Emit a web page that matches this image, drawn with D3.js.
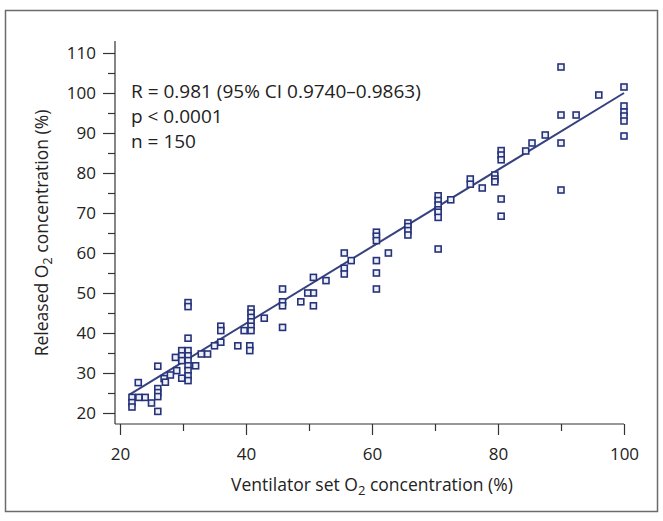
<!DOCTYPE html>
<html><head><meta charset="utf-8">
<script src="https://cdn.jsdelivr.net/npm/d3@7"></script>
<style>
body{margin:0;background:#fff}
svg{display:block}
text{font-family:"Open Sans",sans-serif;fill:#222}
</style>
</head><body>
<svg id="chart" width="663" height="521"></svg>
<script>
// Ventilator set O2 concentration (%) and released O2 concentration (%)
const setO2 = [
  100,100,100,100,100,100, 96, 92.4, 90,90,90,90, 87.5, 85.4, 84.4,
  80.5,80.5,80.5,80.5,80.5, 79.5,79.5,79.5, 77.5, 75.6,75.6, 72.5,
  70.5,70.5,70.5,70.5,70.5,70.5,70.5, 65.7,65.7,65.7,65.7, 62.6,
  60.7,60.7,60.7,60.7,60.7,60.7, 56.7, 55.6,55.6,55.6, 52.7,
  50.7,50.7,50.7, 49.8, 48.7, 45.8,45.8,45.8,45.8, 42.9,
  40.8,40.8,40.8,40.8,40.8,40.8, 40.6,40.6, 39.7, 38.7,
  36,36,36, 35, 33.9, 32.9,
  30.8,30.8,30.8, 30.8,30.8,30.8,30.8,30.8,30.8,30.8,
  29.8,29.8,29.8,29.8, 32,
  29, 28.8, 28, 27, 27.2,
  26,26,26,26,26, 25, 24, 23, 22.9, 21.9,21.9,21.9
];
const releasedO2 = [
  101.5,96.75,95.25,94.25,93,89.25, 99.5, 94.5, 106.5,94.5,87.5,75.75, 89.5, 87.5, 85.5,
  85.6,84.5,83.3,73.5,69.2, 79.5,78.5,77.8, 76.25, 78.5,77.2, 73.3,
  74.3,73.1,72,70.8,70.2,68.9,61, 67.5,66.6,65.6,64.5, 60,
  65.2,64.2,63.1,58.1,55,51, 58.1, 60,56.2,54.75, 53.1,
  53.9,50,46.8, 50, 47.8, 51,47.8,46.8,41.4, 43.7,
  46,45,43.9,42.8,41.7,40.6, 36.8,35.6, 40.6, 36.8,
  41.7,40.6,37.7, 36.8, 34.75, 34.75,
  47.6,46.6,38.7, 35.6,34.3,33.1,31.8,30.6,29.3,28.1,
  35.6,34.3,33.1,28.7, 31.8,
  30.6, 33.9, 29.5, 28.6, 27.7,
  31.7,26.1,25.1,24.1,20.4, 22.5, 23.9, 23.9, 27.6, 23.9,22.6,21.5
];
// Regression line end points
const fitX = [21.5, 100];
const fitY = [24.6, 100];

const xTicks = [20, 40, 60, 80, 100];
const xMinorTicks = [30, 50, 70, 90];
const yTicks = [20, 30, 40, 50, 60, 70, 80, 90, 100, 110];
const yMinorTicks = [25, 35, 45, 55, 65, 75, 85, 95, 105];
const statsText = ["R = 0.981 (95% CI 0.9740\u20130.9863)", "p < 0.0001", "n = 150"];

const svg = d3.select("#chart");

// outer frame
svg.append("rect").attr("x", 5.5).attr("y", 10.5).attr("width", 652).attr("height", 501)
  .attr("fill", "none").attr("stroke", "#6b6b6b").attr("stroke-width", 1.5);

const x = d3.scaleLinear().domain([20, 100]).range([120, 624]);
const y = d3.scaleLinear().domain([20, 110]).range([413, 53]);
const axisX0 = 115, axisY0 = 424;
const axisColor = "#333";
const fs = 17;

// axis lines
svg.append("line").attr("x1", axisX0).attr("x2", x(100)).attr("y1", axisY0).attr("y2", axisY0)
  .attr("stroke", axisColor).attr("stroke-width", 1.2);
svg.append("line").attr("x1", axisX0).attr("x2", axisX0).attr("y1", axisY0).attr("y2", y(113))
  .attr("stroke", axisColor).attr("stroke-width", 1.2);

// x axis ticks
const gx = svg.append("g").attr("transform", `translate(0,${axisY0})`)
  .call(d3.axisBottom(x).tickValues(xTicks).tickSize(11).tickPadding(13).tickSizeOuter(0));
const gxm = svg.append("g").attr("transform", `translate(0,${axisY0})`)
  .call(d3.axisBottom(x).tickValues(xMinorTicks).tickSize(7).tickFormat("").tickSizeOuter(0));
// y axis ticks
const gy = svg.append("g").attr("transform", `translate(${axisX0},0)`)
  .call(d3.axisLeft(y).tickValues(yTicks).tickSize(12).tickPadding(7).tickSizeOuter(0));
const gym = svg.append("g").attr("transform", `translate(${axisX0},0)`)
  .call(d3.axisLeft(y).tickValues(yMinorTicks).tickSize(7).tickFormat("").tickSizeOuter(0));

[gx, gxm, gy, gym].forEach(g => {
  g.select(".domain").remove();
  g.selectAll(".tick line").attr("stroke", axisColor).attr("stroke-width", 1.2);
  g.selectAll(".tick text").attr("font-size", fs).attr("fill", "#222")
    .style("font-family", '"Open Sans",sans-serif');
});

// axis titles
const tfs = 17.5;
const xt = svg.append("text").attr("x", (x(20) + x(100)) / 2).attr("y", 491)
  .attr("text-anchor", "middle").attr("font-size", tfs);
xt.append("tspan").text("Ventilator set O");
xt.append("tspan").text("2").attr("font-size", 13).attr("dy", 4);
xt.append("tspan").text(" concentration (%)").attr("dy", -4);

const yt = svg.append("text").attr("transform", `translate(48,${(y(20) + y(110)) / 2}) rotate(-90)`)
  .attr("text-anchor", "middle").attr("font-size", tfs);
yt.append("tspan").text("Released O");
yt.append("tspan").text("2").attr("font-size", 13).attr("dy", 4);
yt.append("tspan").text(" concentration (%)").attr("dy", -4);

// stats annotation
svg.append("g").selectAll("text").data(statsText).join("text")
  .attr("x", 131).attr("y", (d, i) => 98 + i * 25)
  .attr("font-size", 19).text(d => d);

// regression line
svg.append("line")
  .attr("x1", x(fitX[0])).attr("y1", y(fitY[0]))
  .attr("x2", x(fitX[1])).attr("y2", y(fitY[1]))
  .attr("stroke", "#36427f").attr("stroke-width", 2);

// points
const pts = setO2.map((v, i) => ({ x: v, y: releasedO2[i] }));
const s = 6;
svg.append("g").selectAll("rect").data(pts).join("rect")
  .attr("x", d => x(d.x) - s / 2).attr("y", d => y(d.y) - s / 2)
  .attr("width", s).attr("height", s)
  .attr("fill", "#eef0f8").attr("stroke", "#26327a").attr("stroke-width", 1.6);
</script>
</body></html>
